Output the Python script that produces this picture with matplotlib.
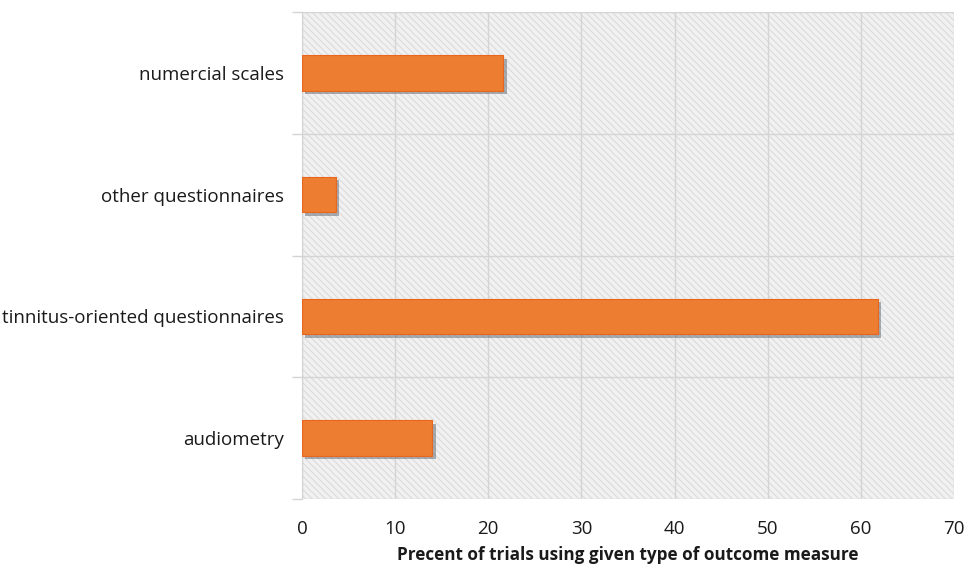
import matplotlib
matplotlib.use("Agg")
import matplotlib.pyplot as plt
import matplotlib.patheffects as pe
import numpy as np

# data (bottom to top)
categories = ["audiometry", "tinnitus-oriented questionnaires",
              "other questionnaires", "numercial scales"]
percent = [14.0, 61.8, 3.6, 21.6]
x_ticks = [0, 10, 20, 30, 40, 50, 60, 70]

plt.rcParams["font.family"] = ["Open Sans", "DejaVu Sans"]
plt.rcParams["hatch.color"] = "#cfcfcf"
plt.rcParams["hatch.linewidth"] = 0.7

fig = plt.figure(figsize=(9.67, 5.67), dpi=100)
ax = fig.add_axes([0.3123, 0.1199, 0.6743, 0.8589])

# hatched background
ax.set_facecolor("#f1f1f1")
ax.add_patch(plt.Rectangle((0, 0), 1, 1, transform=ax.transAxes,
                           facecolor="none", edgecolor="#d8d8d8",
                           hatch="\\\\\\\\\\", linewidth=0, zorder=0))

index = np.arange(len(categories))
bars = ax.barh(index, percent, height=0.29, color="#ed7d31",
               edgecolor="#e8661e", linewidth=0.8, zorder=3)
for b in bars:
    b.set_path_effects([pe.SimplePatchShadow(offset=(2.5, -2.5),
                                             shadow_rgbFace="#4a5560",
                                             alpha=0.45),
                        pe.Normal()])

ax.set_xlim(0, 70)
ax.set_ylim(-0.5, len(categories) - 0.5)
ax.set_xticks(x_ticks)
ax.set_yticks(index)
ax.set_yticklabels(categories)
ax.set_yticks(np.arange(-0.5, len(categories)), minor=True)

ax.grid(axis="x", color="#d4d4d4", linewidth=1.0, zorder=1)
ax.grid(axis="y", which="minor", color="#d4d4d4", linewidth=1.0, zorder=1)
ax.tick_params(axis="y", which="major", length=0, pad=13,
               labelsize=13.5, labelcolor="#1a1a1a")
ax.tick_params(axis="y", which="minor", length=7, color="#d4d4d4", width=1.0)
ax.tick_params(axis="x", length=0, pad=15, labelsize=13.5, labelcolor="#1a1a1a")

for s in ["top", "right", "bottom"]:
    ax.spines[s].set_visible(False)
ax.spines["left"].set_color("#d4d4d4")

ax.set_xlabel("Precent of trials using given type of outcome measure",
              fontsize=12.3, fontweight="bold", color="#1a1a1a", labelpad=6)

plt.savefig("out.png", dpi=100)
